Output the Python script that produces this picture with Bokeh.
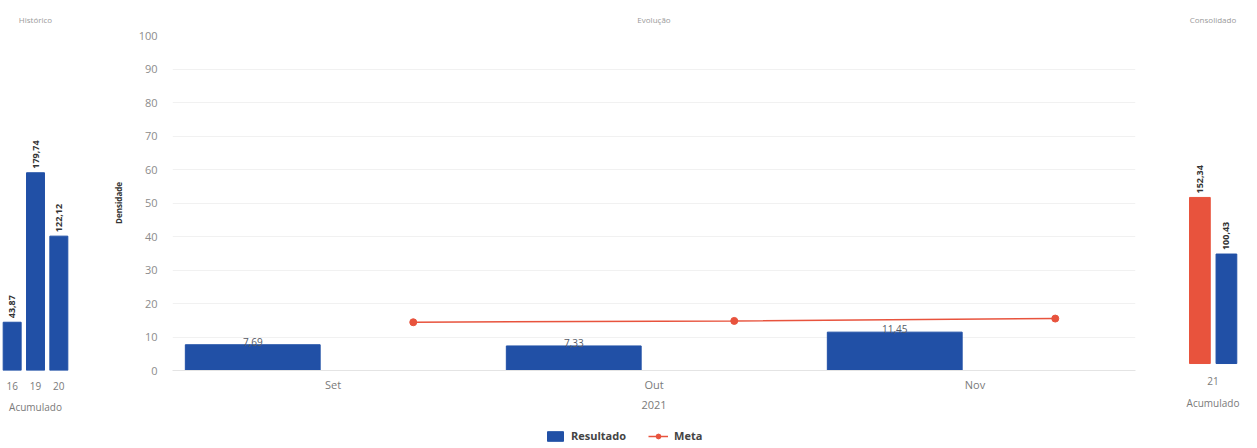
import math
from bokeh.plotting import figure
from bokeh.layouts import row, column
from bokeh.models import ColumnDataSource, FactorRange, Range1d, Legend, LegendItem, FixedTicker
from bokeh.transform import dodge
from bokeh.core.properties import value
from bokeh.embed import file_html
from bokeh.resources import INLINE

# ---------------- data ----------------
hist_years = ["16", "19", "20"]
hist_values = [43.87, 179.74, 122.12]
hist_labels = ["43,87", "179,74", "122,12"]

months = ["Set", "Out", "Nov"]
resultado = [7.69, 7.33, 11.45]
resultado_labels = ["7,69", "7,33", "11,45"]
meta = [14.4, 14.8, 15.5]

cons_year = ["21"]
cons_meta = [152.34]
cons_meta_labels = ["152,34"]
cons_resultado = [100.43]
cons_resultado_labels = ["100,43"]

# ---------------- style ----------------
BLUE = "#2150A6"
RED = "#E8533D"
FONT = "Open Sans"
GRAY = "#7a7a7a"
H = 428
TOP = 35
BOTTOM = 58


def style_title(p, text):
    p.title.text = text
    p.title.text_font = FONT
    p.title.text_font_size = "8px"
    p.title.text_font_style = "normal"
    p.title.text_color = "#9a9a9a"
    p.title.align = "center"
    p.title.vertical_align = "bottom"
    p.title.standoff = 22


def style_xaxis(p, label, standoff, label_standoff, size="10px"):
    ax = p.xaxis[0]
    ax.axis_label = label
    ax.axis_label_text_font = FONT
    ax.axis_label_text_font_size = size
    ax.axis_label_text_font_style = "normal"
    ax.axis_label_text_color = GRAY
    ax.axis_label_standoff = label_standoff
    ax.major_label_text_font = FONT
    ax.major_label_text_font_size = size
    ax.major_label_text_color = GRAY
    ax.major_label_standoff = standoff
    ax.major_tick_out = 0
    ax.major_tick_line_color = None
    ax.minor_tick_line_color = None
    ax.axis_line_color = None


def rot_labels(p, x, y, text, src):
    p.text(x=x, y=y, text=text, source=src, angle=math.pi / 2, text_align="left",
           text_baseline="middle", y_offset=-4, text_font=value(FONT), text_font_size="9px",
           text_font_style="bold", text_color="#333333")


# ---------------- left: Histórico ----------------
src1 = ColumnDataSource(dict(x=hist_years, top=hist_values, label=hist_labels))
p1 = figure(width=100, height=H, x_range=FactorRange(*hist_years), y_range=Range1d(0, 304.5),
            y_axis_location=None, toolbar_location=None, output_backend="svg",
            min_border_left=0, min_border_right=30, min_border_top=TOP, min_border_bottom=BOTTOM,
            outline_line_color=None)
style_title(p1, "Histórico")
p1.vbar(x="x", top="top", width=0.77, source=src1, color=BLUE)
rot_labels(p1, "x", "top", "label", src1)
style_xaxis(p1, "Acumulado", 11, 7)
p1.xgrid.grid_line_color = None
p1.ygrid.grid_line_color = None

# ---------------- middle: Evolução ----------------
src2 = ColumnDataSource(dict(month=months, resultado=resultado, label=resultado_labels, meta=meta))
p2 = figure(width=1060, height=H, x_range=FactorRange(*months), y_range=Range1d(0, 100),
            toolbar_location=None, output_backend="svg",
            min_border_left=72, min_border_right=25, min_border_top=TOP, min_border_bottom=BOTTOM,
            outline_line_color=None)
style_title(p2, "Evolução")
p2.vbar(x=dodge("month", -0.25, range=p2.x_range), top="resultado", width=0.42,
        source=src2, color=BLUE)
p2.line(x=dodge("month", 0.25, range=p2.x_range), y="meta", source=src2,
        line_color=RED, line_width=1.5)
p2.scatter(x=dodge("month", 0.25, range=p2.x_range), y="meta", source=src2, size=7, color=RED)
p2.text(x=dodge("month", -0.25, range=p2.x_range), y="resultado", text="label", source=src2,
        text_align="center", text_baseline="bottom", y_offset=1, text_font=value(FONT),
        text_font_size="10px", text_color="#555a66")
style_xaxis(p2, "2021", 6, 6, size="11px")
p2.xaxis[0].axis_line_color = "#e4e4e4"
ya = p2.yaxis[0]
ya.ticker = FixedTicker(ticks=list(range(0, 101, 10)))
ya.major_label_text_font = FONT
ya.major_label_text_font_size = "11px"
ya.major_label_text_color = "#8c8c8c"
ya.major_label_standoff = 15
ya.major_tick_out = 0
ya.major_tick_line_color = None
ya.minor_tick_line_color = None
ya.axis_line_color = None
ya.axis_label = "Densidade"
ya.axis_label_text_font = FONT
ya.axis_label_text_font_size = "8px"
ya.axis_label_text_font_style = "bold"
ya.axis_label_text_color = "#333333"
ya.axis_label_standoff = 12
p2.xgrid.grid_line_color = None
p2.ygrid.grid_line_color = "#f1f1f1"

# ---------------- right: Consolidado ----------------
src3 = ColumnDataSource(dict(x=cons_year, meta=cons_meta, meta_label=cons_meta_labels,
                             res=cons_resultado, res_label=cons_resultado_labels))
p3 = figure(width=95, height=H, x_range=FactorRange(*cons_year), y_range=Range1d(-6.4, 300.9),
            y_axis_location=None, toolbar_location=None, output_backend="svg",
            min_border_left=22, min_border_right=12, min_border_top=TOP, min_border_bottom=BOTTOM,
            outline_line_color=None)
style_title(p3, "Consolidado")
p3.vbar(x=dodge("x", -0.215, range=p3.x_range), top="meta", width=0.34, source=src3, color=RED)
p3.vbar(x=dodge("x", 0.22, range=p3.x_range), top="res", width=0.34, source=src3, color=BLUE)
rot_labels(p3, dodge("x", -0.215, range=p3.x_range), "meta", "meta_label", src3)
rot_labels(p3, dodge("x", 0.22, range=p3.x_range), "res", "res_label", src3)
style_xaxis(p3, "Acumulado", 6, 8)
p3.xgrid.grid_line_color = None
p3.ygrid.grid_line_color = None

# ---------------- legend strip ----------------
pl = figure(width=1255, height=18, x_range=FactorRange(*months), y_range=Range1d(1000, 1001),
            x_axis_location=None, y_axis_location=None, toolbar_location=None,
            output_backend="svg", min_border=0, outline_line_color=None)
pl.xgrid.grid_line_color = None
pl.ygrid.grid_line_color = None
lbars = pl.vbar(x="month", top="resultado", width=0.42, source=src2, color=BLUE)
lline = pl.line(x="month", y="meta", source=src2, line_color=RED, line_width=1.5)
ldots = pl.scatter(x="month", y="meta", source=src2, size=7, color=RED)
legend = Legend(items=[LegendItem(label="Resultado", renderers=[lbars]),
                       LegendItem(label="Meta", renderers=[lline, ldots])],
                location=(545, 3), orientation="horizontal", border_line_color=None,
                background_fill_alpha=0, padding=0, margin=0, spacing=22,
                glyph_width=20, glyph_height=12, label_standoff=6, label_height=12,
                label_text_font=FONT, label_text_font_size="11px",
                label_text_font_style="bold", label_text_color="#444444")
pl.add_layout(legend)

layout = column(row(p1, p2, p3), pl)
open("out.html", "w").write(file_html(layout, INLINE))
